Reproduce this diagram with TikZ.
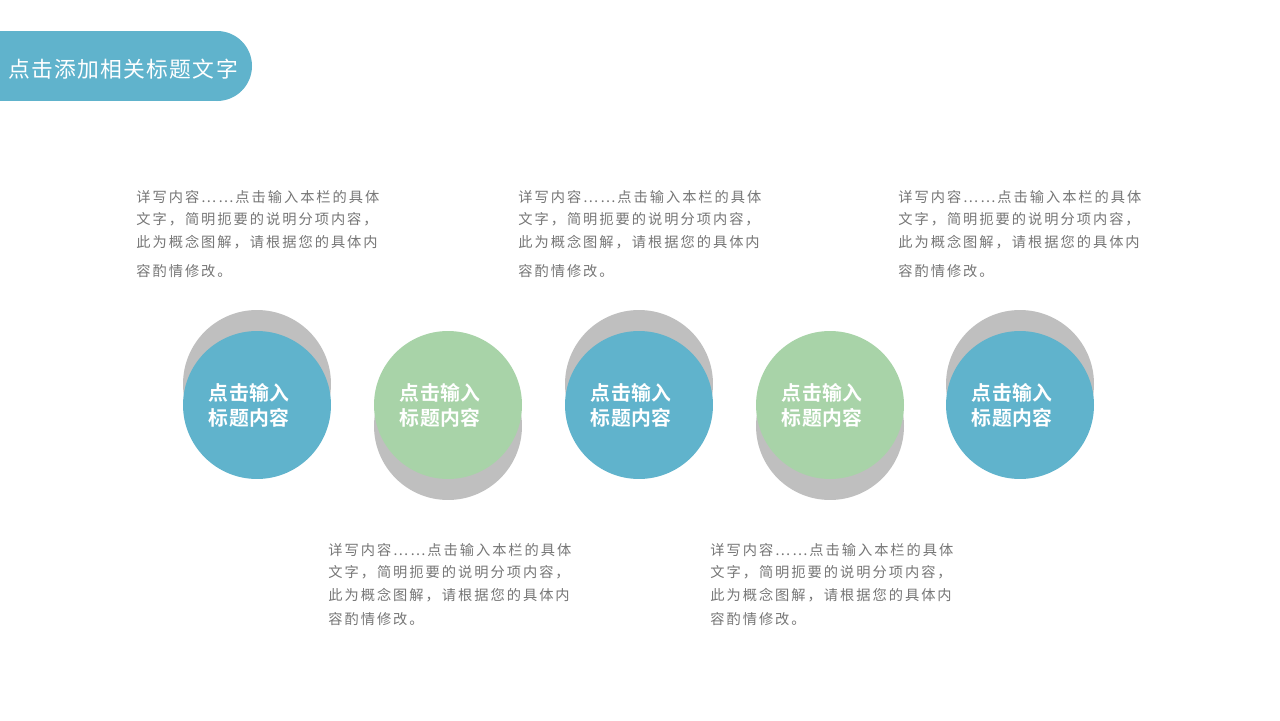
\documentclass[tikz,border=0pt]{standalone}
\usepackage{fontspec}
\newfontfamily\cjk[LetterSpace=14]{Noto Sans CJK SC}
\newfontfamily\cjktitle[LetterSpace=6]{Noto Sans CJK SC}
\newfontfamily\cjkbold[BoldFont={* Bold},LetterSpace=2]{Noto Sans CJK SC}
\definecolor{themeblue}{RGB}{96,179,204}
\definecolor{themegreen}{RGB}{168,211,168}
\definecolor{shadegray}{RGB}{191,191,191}
\definecolor{textgray}{RGB}{118,118,118}
% #1: extra gap before last line
\newcommand{\desc}[1]{详写内容……点击输入本栏的具体\\文字，简明扼要的说明分项内容，\\此为概念图解，请根据您的具体内\\[#1]容酌情修改。}
\newcommand{\ctitle}{点击输入\hspace*{9pt}\\标题内容\hspace*{9pt}}
\tikzset{
  shadecirc/.style={circle,fill=shadegray,minimum size=2.96cm,inner sep=0pt},
  bluecirc/.style={circle,fill=themeblue,minimum size=2.96cm,inner sep=0pt,
    text=white,align=center,font=\cjkbold\bfseries\fontsize{11.3}{14.2}\selectfont},
  greencirc/.style={bluecirc,fill=themegreen},
  desctext/.style={anchor=north west,inner sep=0pt,align=left,text=textgray,
    font=\cjk\fontsize{8.1}{12.8}\selectfont}
}
\begin{document}
\begin{tikzpicture}[x=0.02cm,y=-0.02cm]
    \useasboundingbox[fill=white] (0,0) rectangle (1280,720);
    % title banner
    \fill[themeblue] (0,31) rectangle (217,101);
    \fill[themeblue] (217,66) circle (35);
    \node[text=white,font=\cjktitle\fontsize{12.4}{14}\selectfont] (title) at (123,69) {点击添加相关标题文字};
    % circles
    \node[shadecirc] (g1) at (257,384) {};
    \node[bluecirc] (c1) at (257,405) {\ctitle};
    \node[shadecirc] (g2) at (448,426) {};
    \node[greencirc] (c2) at (448,405) {\ctitle};
    \node[shadecirc] (g3) at (639,384) {};
    \node[bluecirc] (c3) at (639,405) {\ctitle};
    \node[shadecirc] (g4) at (830,426) {};
    \node[greencirc] (c4) at (830,405) {\ctitle};
    \node[shadecirc] (g5) at (1020,384) {};
    \node[bluecirc] (c5) at (1020,405) {\ctitle};
    % texts
    \node[desctext] (d1) at (136,190) {\desc{4pt}};
    \node[desctext] (d2) at (328,543) {\desc{0.8pt}};
    \node[desctext] (d3) at (518,190) {\desc{4pt}};
    \node[desctext] (d4) at (710,543) {\desc{0.8pt}};
    \node[desctext] (d5) at (898,190) {\desc{4pt}};
\end{tikzpicture}
\end{document}
